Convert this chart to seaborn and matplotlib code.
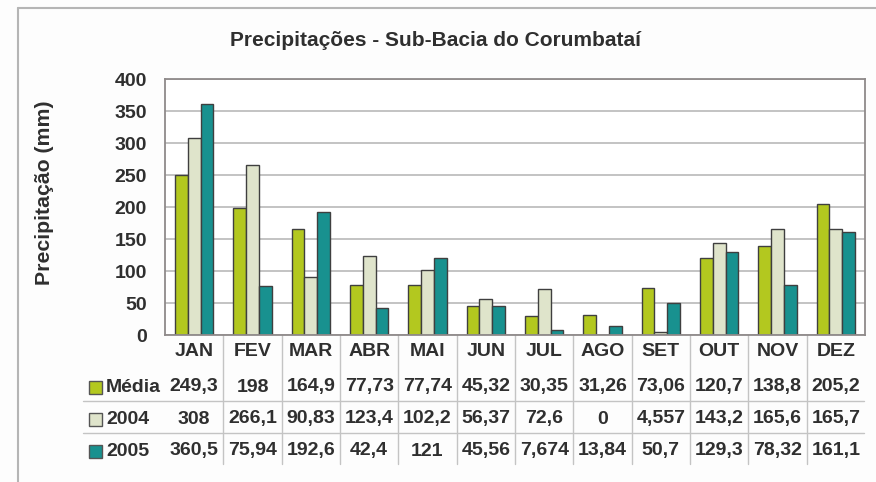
import matplotlib
matplotlib.use('Agg')
import matplotlib.pyplot as plt
import matplotlib.patches as mpatches
from matplotlib.lines import Line2D
import matplotlib.transforms as mtransforms
import seaborn as sns
import pandas as pd

meses = ['JAN', 'FEV', 'MAR', 'ABR', 'MAI', 'JUN', 'JUL', 'AGO', 'SET', 'OUT', 'NOV', 'DEZ']
series = ['Média', '2004', '2005']
media = [249.3, 198, 164.9, 77.73, 77.74, 45.32, 30.35, 31.26, 73.06, 120.7, 138.8, 205.2]
ano_2004 = [308, 266.1, 90.83, 123.4, 102.2, 56.37, 72.6, 0, 4.557, 143.2, 165.6, 165.7]
ano_2005 = [360.5, 75.94, 192.6, 42.4, 121, 45.56, 7.674, 13.84, 50.7, 129.3, 78.32, 161.1]
labels_media = ['249,3', '198', '164,9', '77,73', '77,74', '45,32', '30,35', '31,26', '73,06', '120,7', '138,8', '205,2']
labels_2004 = ['308', '266,1', '90,83', '123,4', '102,2', '56,37', '72,6', '0', '4,557', '143,2', '165,6', '165,7']
labels_2005 = ['360,5', '75,94', '192,6', '42,4', '121', '45,56', '7,674', '13,84', '50,7', '129,3', '78,32', '161,1']

cores = ['#b3c81f', '#dfe4cb', '#18918f']

df = pd.DataFrame({
    'mes': meses * 3,
    'serie': [s for s in series for _ in meses],
    'valor': media + ano_2004 + ano_2005,
})

sns.set_style('white')
plt.rcParams['font.family'] = ['Liberation Sans', 'DejaVu Sans']
texto = '#2f2f2f'
fs = 14

W, H = 876, 482
fig = plt.figure(figsize=(W / 100, H / 100), dpi=100)
fig.patch.set_facecolor('#fdfdfd')

def fx(px):
    return px / W

def fy(py):
    return 1 - py / H

ax = fig.add_axes([fx(165), fy(335), fx(865) - fx(165), fy(79) - fy(335)])

sns.barplot(data=df, x='mes', y='valor', hue='serie', palette=cores, width=0.66,
            edgecolor='#3f3f3f', linewidth=1.0, saturation=1, ax=ax, legend=False)

ax.set_ylim(0, 400)
ax.set_xlim(-0.5, len(meses) - 0.5)
ax.set_yticks(range(0, 401, 50))
ax.yaxis.grid(True, color='#b9b9b9', linewidth=1.2)
ax.set_axisbelow(True)
ax.set_facecolor('white')
for s in ax.spines.values():
    s.set_color('#8f8a8a')
    s.set_linewidth(1.3)
ax.tick_params(axis='y', length=5, width=1, color='#8f8a8a', pad=8,
               labelsize=fs, labelcolor=texto)
for t in ax.get_yticklabels():
    t.set_fontweight('bold')
ax.set_xticks([])
ax.set_xlabel('')
ax.set_ylabel('')

fig.text(fx(45), fy(193), 'Precipitação (mm)', rotation=90, ha='center', va='center',
         fontsize=15.3, fontweight='bold', color=texto)
fig.text(fx(436), fy(41), 'Precipitações - Sub-Bacia do Corumbataí', ha='center', va='center',
         fontsize=15, fontweight='bold', color=texto)

# data table below the axis
trans = mtransforms.blended_transform_factory(ax.transData, fig.transFigure)
for i, m in enumerate(meses):
    ax.text(i, fy(352), m, transform=trans, ha='center', va='center', fontsize=fs,
            fontweight='bold', color=texto, clip_on=False)

linhas_y = [387, 419, 451]
for lab_row, yy in zip([labels_media, labels_2004, labels_2005], linhas_y):
    for i, v in enumerate(lab_row):
        ax.text(i, fy(yy), v, transform=trans, ha='center', va='center', fontsize=fs,
                fontweight='bold', color=texto, clip_on=False)

# legend keys in table rows
for nome, cor, yy in zip(series, cores, linhas_y):
    fig.add_artist(mpatches.Rectangle((fx(89), fy(yy + 6.5)), fx(13), 13 / H, facecolor=cor,
                                      edgecolor='#555555', linewidth=1, transform=fig.transFigure))
    fig.text(fx(106), fy(yy), nome, ha='left', va='center', fontsize=fs,
             fontweight='bold', color=texto)

# table grid lines
for yy in [401, 433]:
    fig.add_artist(Line2D([fx(83), fx(864)], [fy(yy), fy(yy)], color='#c4c4c4',
                          linewidth=1, transform=fig.transFigure))
for i in range(1, len(meses)):
    ax.add_line(Line2D([i - 0.5, i - 0.5], [fy(335), fy(464)], color='#c4c4c4',
                       linewidth=1, transform=trans, clip_on=False))

# outer frame
fig.add_artist(Line2D([fx(18), 1], [fy(8), fy(8)], color='#b5b5b5', linewidth=1.5,
                      transform=fig.transFigure))
fig.add_artist(Line2D([fx(18), fx(18)], [fy(8), 0], color='#b5b5b5', linewidth=1.5,
                      transform=fig.transFigure))

fig.savefig('out.png', dpi=100, facecolor=fig.get_facecolor())
